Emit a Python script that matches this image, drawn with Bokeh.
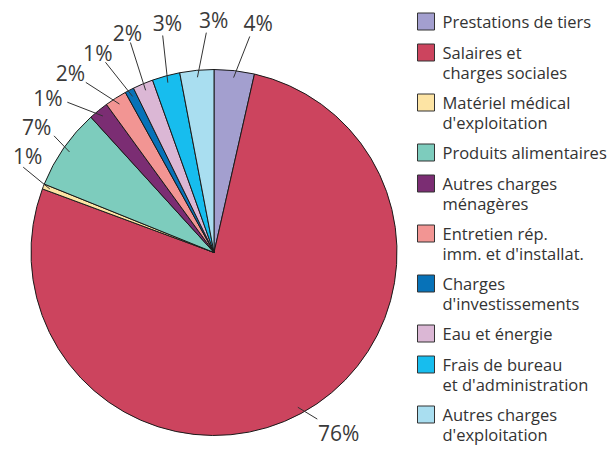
import math
from bokeh.plotting import figure
from bokeh.models import Range1d
from bokeh.embed import file_html
from bokeh.resources import INLINE
from bokeh.core.properties import value

# ---- data ----
categories = [
    "Prestations de tiers",
    "Salaires et\ncharges sociales",
    "Matériel médical\nd'exploitation",
    "Produits alimentaires",
    "Autres charges\nménagères",
    "Entretien rép.\nimm. et d'installat.",
    "Charges\nd'investissements",
    "Eau et énergie",
    "Frais de bureau\net d'administration",
    "Autres charges\nd'exploitation",
]
shares = [3.55, 77.1, 0.45, 7.15, 1.75, 1.95, 0.8, 1.8, 2.45, 3.0]
pct_labels = ["4%", "76%", "1%", "7%", "1%", "2%", "1%", "2%", "3%", "3%"]
colors = ["#a39fcf", "#cc445e", "#fde4a4", "#7dccbd", "#7b2d73",
          "#f29593", "#0772b8", "#dbb7d5", "#17bdee", "#a9def0"]

# ---- layout (label placement, degrees clockwise from top) ----
leader_end_angle = [9.4, 148.2, -65.9, -53.9, -44.3, -37.0, -29.7, -21.7, -13.3, -2.0]
leader_end_r = [219, 196, 209, 198, 210, 213, 219, 226, 223, 220]
text_angle = [10.9, 145.3, -62.5, -54.8, -47.0, -38.6, -30.2, -21.5, -11.5, -0.1]
text_r = [234, 219, 210, 217, 227, 230, 231, 236, 234, 233]

W, H = 612, 450
cx, cy_screen, R = 213.5, 252.0, 183.0
cy = H - cy_screen

p = figure(width=W, height=H, output_backend="svg", toolbar_location=None,
           x_range=Range1d(0, W), y_range=Range1d(0, H),
           x_axis_location=None, y_axis_location=None, min_border=0)
p.grid.visible = False
p.outline_line_color = None
p.background_fill_color = "white"
p.border_fill_color = "white"

total = sum(shares)
cum = [0.0]
for s in shares:
    cum.append(cum[-1] + s / total)

starts, ends = [], []
for i in range(len(shares)):
    starts.append(math.pi / 2 - 2 * math.pi * cum[i + 1])
    ends.append(math.pi / 2 - 2 * math.pi * cum[i])

p.wedge(x=[cx] * len(shares), y=[cy] * len(shares), radius=R,
        start_angle=starts, end_angle=ends, direction="anticlock",
        fill_color=colors, line_color="#1a1a1a", line_width=1)


def polar(a_deg, r):
    a = math.radians(a_deg)
    return cx + r * math.sin(a), cy + r * math.cos(a)


x0s, y0s, x1s, y1s, tx, ty = [], [], [], [], [], []
for i in range(len(shares)):
    mid = (cum[i] + cum[i + 1]) / 2 * 360
    a, b = polar(mid, 176)
    c, d = polar(leader_end_angle[i], leader_end_r[i])
    x0s.append(a); y0s.append(b); x1s.append(c); y1s.append(d)
    e, f = polar(text_angle[i], text_r[i])
    tx.append(e); ty.append(f)

p.segment(x0=x0s, y0=y0s, x1=x1s, y1=y1s, line_color="#333333", line_width=1)
p.text(x=tx, y=ty, text=pct_labels, text_font=value("Open Sans"),
       text_font_size="21px", text_color="#3a3a3a",
       text_align="center", text_baseline="middle")

# ---- legend ----
sq_x = 425.5
txt_x = 442
row_y = 21.0
line_gap = 20.0
sq_ys, lx, ly, ltext = [], [], [], []
for i, cat in enumerate(categories):
    lines = cat.split("\n")
    sq_ys.append(H - row_y)
    for k, ln in enumerate(lines):
        lx.append(txt_x)
        ly.append(H - (row_y + k * line_gap))
        ltext.append(ln)
    row_y += 31 if len(lines) == 1 else 50

p.rect(x=[sq_x] * len(categories), y=sq_ys, width=17, height=17,
       fill_color=colors, line_color="#333333", line_width=1)
p.text(x=lx, y=ly, text=ltext, text_font=value("Open Sans"),
       text_font_size="16.5px", text_color="#333333",
       text_align="left", text_baseline="middle")

open("out.html", "w").write(file_html(p, INLINE))
